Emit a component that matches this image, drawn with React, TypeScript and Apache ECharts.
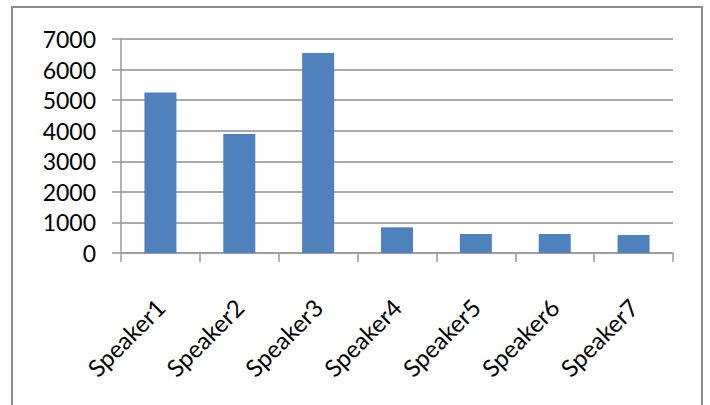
import React, { useEffect, useRef } from "react";
import * as echarts from "echarts";

const categories = ["Speaker1", "Speaker2", "Speaker3", "Speaker4", "Speaker5", "Speaker6", "Speaker7"];
const values = [5250, 3890, 6540, 840, 620, 620, 590];
const yTicks = [0, 1000, 2000, 3000, 4000, 5000, 6000, 7000];

export default function App() {
  const ref = useRef<HTMLDivElement>(null);

  useEffect(() => {
    if (!ref.current) return;
    const chart = echarts.init(ref.current, null, { renderer: "svg" });
    chart.setOption({
      animation: false,
      backgroundColor: "#ffffff",
      graphic: [
        {
          type: "rect",
          shape: { x: 12, y: 7, width: 690, height: 410 },
          style: { fill: "none", stroke: "#8c8c8c", lineWidth: 2 },
          silent: true,
        },
      ],
      grid: { left: 121, right: 37, top: 39, bottom: 152, containLabel: false },
      xAxis: {
        type: "category",
        data: categories,
        axisLine: { show: true, lineStyle: { color: "#9a9a9a", width: 1.5 } },
        axisTick: { show: true, alignWithLabel: false, length: 9, lineStyle: { color: "#9a9a9a", width: 1.5 } },
        axisLabel: {
          rotate: 45,
          margin: 50,
          interval: 0,
          color: "#000",
          fontFamily: "Lato",
          fontSize: 24,
        },
        splitLine: { show: false },
      },
      yAxis: {
        type: "value",
        min: yTicks[0],
        max: yTicks[yTicks.length - 1],
        interval: 1000,
        axisLine: { show: true, lineStyle: { color: "#9a9a9a", width: 1.5 } },
        axisTick: { show: true, length: 9, lineStyle: { color: "#9a9a9a", width: 1.5 } },
        axisLabel: {
          margin: 25,
          color: "#000",
          fontFamily: "Lato",
          fontSize: 23,
          formatter: (v: number) => String(v),
        },
        splitLine: { show: true, lineStyle: { color: "#8f8f8f", width: 1.5 } },
      },
      series: [
        {
          type: "bar",
          data: values,
          barWidth: 32,
          itemStyle: { color: "#4f81bd" },
        },
      ],
    });
    return () => chart.dispose();
  }, []);

  return (
    <div
      ref={ref}
      style={{ position: "fixed", left: 0, top: 0, width: 710, height: 405 }}
    />
  );
}
